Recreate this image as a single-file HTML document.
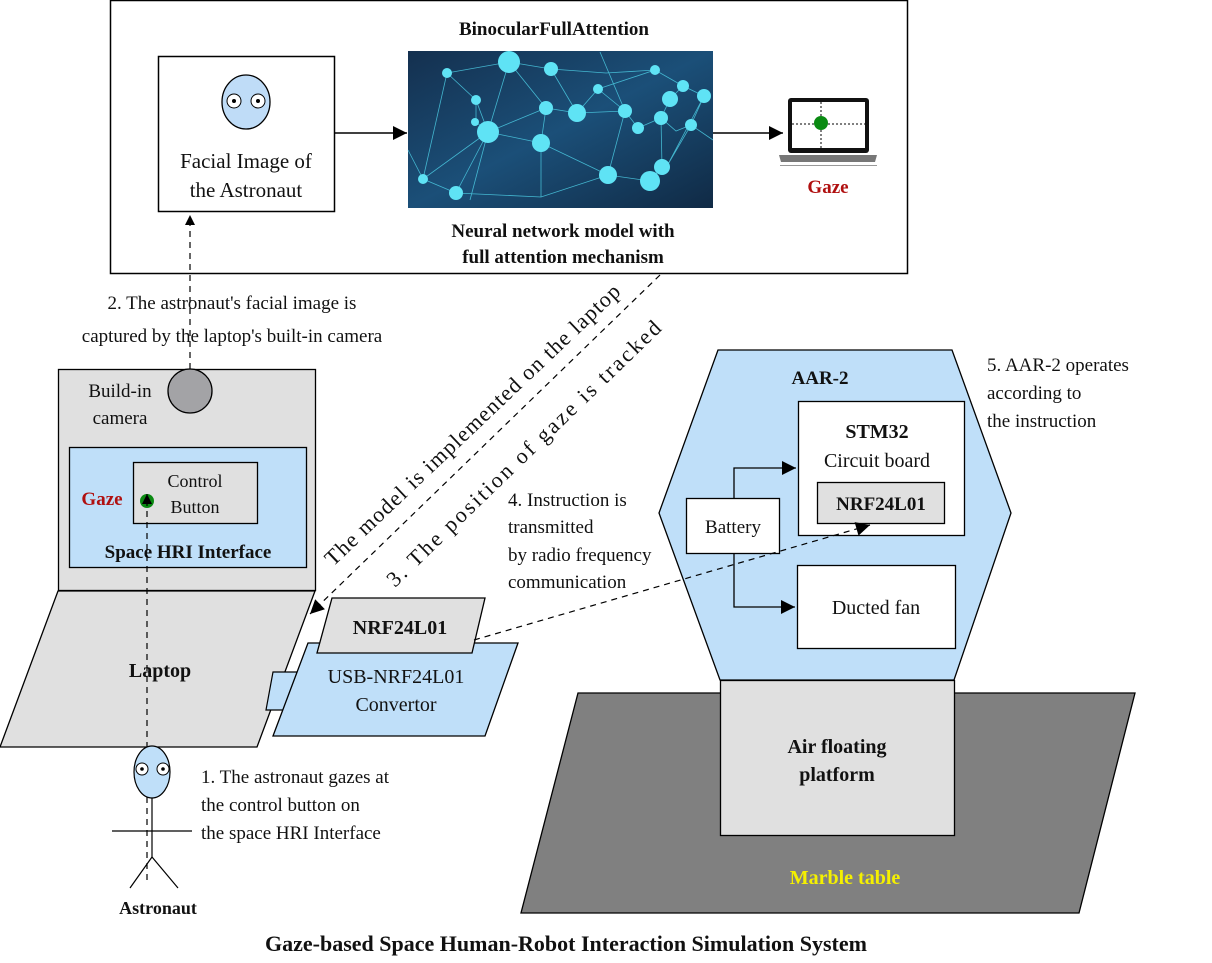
<!DOCTYPE html>
<html><head><meta charset="utf-8"><style>
html,body{margin:0;padding:0;background:#fff;}
svg{display:block;}
text{font-family:"Liberation Serif",serif;fill:#111;}
.b{font-weight:bold;}
</style></head><body>
<svg width="1212" height="963" viewBox="0 0 1212 963" xmlns="http://www.w3.org/2000/svg">
<defs>
<marker id="ah" viewBox="0 0 10 10" refX="10" refY="5" markerWidth="10" markerHeight="10" markerUnits="userSpaceOnUse" orient="auto"><path d="M0,0 L10,5 L0,10 z" fill="#000"/></marker>
<marker id="AH" viewBox="0 0 10 10" refX="10" refY="5" markerWidth="16" markerHeight="14" markerUnits="userSpaceOnUse" orient="auto"><path d="M0,0 L10,5 L0,10 z" fill="#000"/></marker>
<linearGradient id="nn" x1="0" y1="0" x2="1" y2="1"><stop offset="0" stop-color="#14304f"/><stop offset="0.5" stop-color="#1b4f78"/><stop offset="1" stop-color="#102a45"/></linearGradient>
</defs>

<rect x="110.5" y="0.5" width="797" height="273" fill="#fff" stroke="#000" stroke-width="1.5"/>
<text x="554" y="35" font-size="19" class="b" text-anchor="middle">BinocularFullAttention</text>
<rect x="158.5" y="56.5" width="176" height="155" fill="#fff" stroke="#000" stroke-width="1.5"/>
<ellipse cx="246" cy="102" rx="24" ry="27" fill="#bfdcf7" stroke="#000" stroke-width="1.3"/>
<circle cx="234" cy="101" r="7" fill="#fff" stroke="#000"/><circle cx="234" cy="101" r="2" fill="#000"/>
<circle cx="258" cy="101" r="7" fill="#fff" stroke="#000"/><circle cx="258" cy="101" r="2" fill="#000"/>
<text x="246" y="168" font-size="21" text-anchor="middle">Facial Image of</text>
<text x="246" y="197" font-size="21" text-anchor="middle">the Astronaut</text>
<line x1="335" y1="133" x2="407" y2="133" stroke="#000" stroke-width="1.5" marker-end="url(#AH)"/>

<rect x="408" y="51" width="305" height="157" fill="url(#nn)"/>
<g stroke="#4fd3ea" stroke-width="0.8" opacity="0.8" fill="none">
<path d="M447,73 L509,62 L551,69 L606,73 L655,70 L683,86 L704,96 L691,125 L676,131 L661,118 L638,128 L625,111 L598,89 L577,113 L546,108 L488,132 L423,179 L456,193 L541,197 L608,175 L650,181 L662,167 L667,166 L704,96 M447,73 L476,100 L488,132 L546,108 L509,62 M476,100 L476,122 L488,132 L541,143 L608,175 M541,143 L546,108 L577,113 L598,89 L655,70 M577,113 L625,111 L638,128 L661,118 L670,99 L683,86 M541,143 L541,197 M488,132 L456,193 M423,179 L447,73 M608,175 L625,111 M650,181 L662,167 L661,118 M691,125 L667,166 M551,69 L577,113 M408,150 L423,179 M509,62 L488,132 L470,200 M600,52 L625,111 M713,140 L691,125"/>
</g>
<g fill="#5fe3f5">
<circle cx="509" cy="62" r="11"/><circle cx="551" cy="69" r="7"/><circle cx="447" cy="73" r="5"/><circle cx="476" cy="100" r="5"/>
<circle cx="488" cy="132" r="11"/><circle cx="546" cy="108" r="7"/><circle cx="577" cy="113" r="9"/><circle cx="598" cy="89" r="5"/>
<circle cx="625" cy="111" r="7"/><circle cx="638" cy="128" r="6"/><circle cx="661" cy="118" r="7"/><circle cx="655" cy="70" r="5"/>
<circle cx="670" cy="99" r="8"/><circle cx="683" cy="86" r="6"/><circle cx="704" cy="96" r="7"/><circle cx="691" cy="125" r="6"/>
<circle cx="541" cy="143" r="9"/><circle cx="423" cy="179" r="5"/><circle cx="456" cy="193" r="7"/><circle cx="608" cy="175" r="9"/>
<circle cx="650" cy="181" r="10"/><circle cx="662" cy="167" r="8"/><circle cx="475" cy="122" r="4"/>
</g>
<text x="563" y="237" font-size="19" class="b" text-anchor="middle">Neural network model with</text>
<text x="563" y="263" font-size="19" class="b" text-anchor="middle">full attention mechanism</text>
<line x1="713" y1="133" x2="783" y2="133" stroke="#000" stroke-width="1.5" marker-end="url(#AH)"/>

<rect x="788" y="98" width="81" height="55" rx="3" fill="#111"/>
<rect x="792" y="102" width="73" height="46" fill="#fff"/>
<line x1="792" y1="124" x2="865" y2="124" stroke="#000" stroke-dasharray="2,2"/>
<line x1="821" y1="102" x2="821" y2="148" stroke="#000" stroke-dasharray="2,2"/>
<circle cx="821" cy="123" r="7" fill="#0a8a12"/>
<path d="M779,155 L877,155 L875,162 L781,162 z" fill="#777"/>
<rect x="780" y="165" width="97" height="1" fill="#999"/>
<text x="828" y="193" font-size="19" class="b" text-anchor="middle" style="fill:#b01010">Gaze</text>

<line x1="190" y1="369" x2="190" y2="215" stroke="#000" stroke-width="1.2" stroke-dasharray="6,5" marker-end="url(#ah)"/>
<text x="232" y="309" font-size="19" text-anchor="middle">2. The astronaut's facial image is</text>
<text x="232" y="342" font-size="19" text-anchor="middle">captured by the laptop's built-in camera</text>

<rect x="58.5" y="369.5" width="257" height="221" fill="#e0e0e0" stroke="#000" stroke-width="1.3"/>
<circle cx="190" cy="391" r="22" fill="#a3a3a6" stroke="#000" stroke-width="1.3"/>
<text x="120" y="397" font-size="19" text-anchor="middle">Build-in</text>
<text x="120" y="424" font-size="19" text-anchor="middle">camera</text>
<rect x="69.5" y="447.5" width="237" height="120" fill="#bfdff9" stroke="#000" stroke-width="1.3"/>
<rect x="133.5" y="462.5" width="124" height="61" fill="#e0e0e0" stroke="#000" stroke-width="1.3"/>
<text x="195" y="487" font-size="18" text-anchor="middle">Control</text>
<text x="195" y="513" font-size="18" text-anchor="middle">Button</text>
<text x="102" y="505" font-size="19" class="b" text-anchor="middle" style="fill:#b01010">Gaze</text>
<circle cx="147" cy="501" r="7" fill="#0a8a12"/>
<text x="188" y="558" font-size="19" class="b" text-anchor="middle">Space HRI Interface</text>
<path d="M58,591 L315,591 L257,747 L0,747 z" fill="#e0e0e0" stroke="#000" stroke-width="1.3"/>
<text x="160" y="677" font-size="20" class="b" text-anchor="middle">Laptop</text>
<line x1="147" y1="880" x2="147" y2="494" stroke="#000" stroke-width="1.2" stroke-dasharray="6,5" marker-end="url(#ah)"/>

<path d="M273,672 L297,672 L291,710 L266,710 z" fill="#bfdff9" stroke="#000" stroke-width="1.2"/>
<path d="M308,643 L518,643 L485,736 L273,736 z" fill="#bfdff9" stroke="#000" stroke-width="1.3"/>
<text x="396" y="683" font-size="20" text-anchor="middle">USB-NRF24L01</text>
<text x="396" y="711" font-size="20" text-anchor="middle">Convertor</text>
<path d="M332,598 L485,598 L472,653 L317,653 z" fill="#e0e0e0" stroke="#000" stroke-width="1.3"/>
<text x="400" y="634" font-size="20" class="b" text-anchor="middle">NRF24L01</text>

<line x1="660" y1="275" x2="310" y2="614" stroke="#000" stroke-width="1.2" stroke-dasharray="6,5" marker-end="url(#AH)"/>
<text transform="translate(333,567) rotate(-43.5)" font-size="22" textLength="398" lengthAdjust="spacing">The model is implemented on the laptop</text>
<text transform="translate(395,588) rotate(-44)" font-size="22" textLength="372" lengthAdjust="spacing">3. The position of gaze is tracked</text>
<text x="508" y="506" font-size="19">4. Instruction is</text>
<text x="508" y="533" font-size="19">transmitted</text>
<text x="508" y="561" font-size="19">by radio frequency</text>
<text x="508" y="588" font-size="19">communication</text>

<path d="M578,693 L1135,693 L1079,913 L521,913 z" fill="#808080" stroke="#000" stroke-width="1.3"/>
<text x="845" y="884" font-size="20" class="b" text-anchor="middle" style="fill:#f5f000">Marble table</text>
<rect x="720.5" y="680.5" width="234" height="155" fill="#e0e0e0" stroke="#000" stroke-width="1.3"/>
<text x="837" y="753" font-size="20" class="b" text-anchor="middle">Air floating</text>
<text x="837" y="781" font-size="20" class="b" text-anchor="middle">platform</text>

<path d="M718,350 L952,350 L1011,513 L954,680 L720,680 L659,513 z" fill="#bfdff9" stroke="#000" stroke-width="1.3"/>
<text x="820" y="384" font-size="19" class="b" text-anchor="middle">AAR-2</text>
<rect x="798.5" y="401.5" width="166" height="134" fill="#fff" stroke="#000" stroke-width="1.3"/>
<text x="877" y="438" font-size="20" class="b" text-anchor="middle">STM32</text>
<text x="877" y="467" font-size="20" text-anchor="middle">Circuit board</text>
<rect x="817.5" y="482.5" width="127" height="41" fill="#e0e0e0" stroke="#000" stroke-width="1.3"/>
<text x="881" y="510" font-size="19" class="b" text-anchor="middle">NRF24L01</text>
<rect x="686.5" y="498.5" width="93" height="55" fill="#fff" stroke="#000" stroke-width="1.3"/>
<text x="733" y="533" font-size="19" text-anchor="middle">Battery</text>
<rect x="797.5" y="565.5" width="158" height="83" fill="#fff" stroke="#000" stroke-width="1.3"/>
<text x="876" y="614" font-size="20" text-anchor="middle">Ducted fan</text>
<polyline points="734,498 734,468 796,468" fill="none" stroke="#000" stroke-width="1.3" marker-end="url(#AH)"/>
<polyline points="734,554 734,607 795,607" fill="none" stroke="#000" stroke-width="1.3" marker-end="url(#AH)"/>
<line x1="474" y1="640" x2="870" y2="525" stroke="#000" stroke-width="1.2" stroke-dasharray="6,5" marker-end="url(#AH)"/>
<text x="987" y="371" font-size="19">5. AAR-2 operates</text>
<text x="987" y="399" font-size="19">according to</text>
<text x="987" y="427" font-size="19">the instruction</text>

<ellipse cx="152" cy="772" rx="18" ry="26" fill="#bfdff9" stroke="#000" stroke-width="1.2"/>
<circle cx="142" cy="769" r="6" fill="#fff" stroke="#000"/><circle cx="142" cy="769" r="1.8" fill="#000"/>
<circle cx="163" cy="769" r="6" fill="#fff" stroke="#000"/><circle cx="163" cy="769" r="1.8" fill="#000"/>
<line x1="152" y1="798" x2="152" y2="857" stroke="#000" stroke-width="1.2"/>
<line x1="112" y1="831" x2="192" y2="831" stroke="#000" stroke-width="1.2"/>
<polyline points="130,888 152,857 178,888" fill="none" stroke="#000" stroke-width="1.2"/>
<text x="158" y="914" font-size="18" class="b" text-anchor="middle">Astronaut</text>
<text x="201" y="783" font-size="19">1. The astronaut gazes at</text>
<text x="201" y="811" font-size="19">the control button on</text>
<text x="201" y="839" font-size="19">the space HRI Interface</text>

<text x="566" y="951" font-size="22" class="b" text-anchor="middle">Gaze-based Space Human-Robot Interaction Simulation System</text>
</svg>
</body></html>
